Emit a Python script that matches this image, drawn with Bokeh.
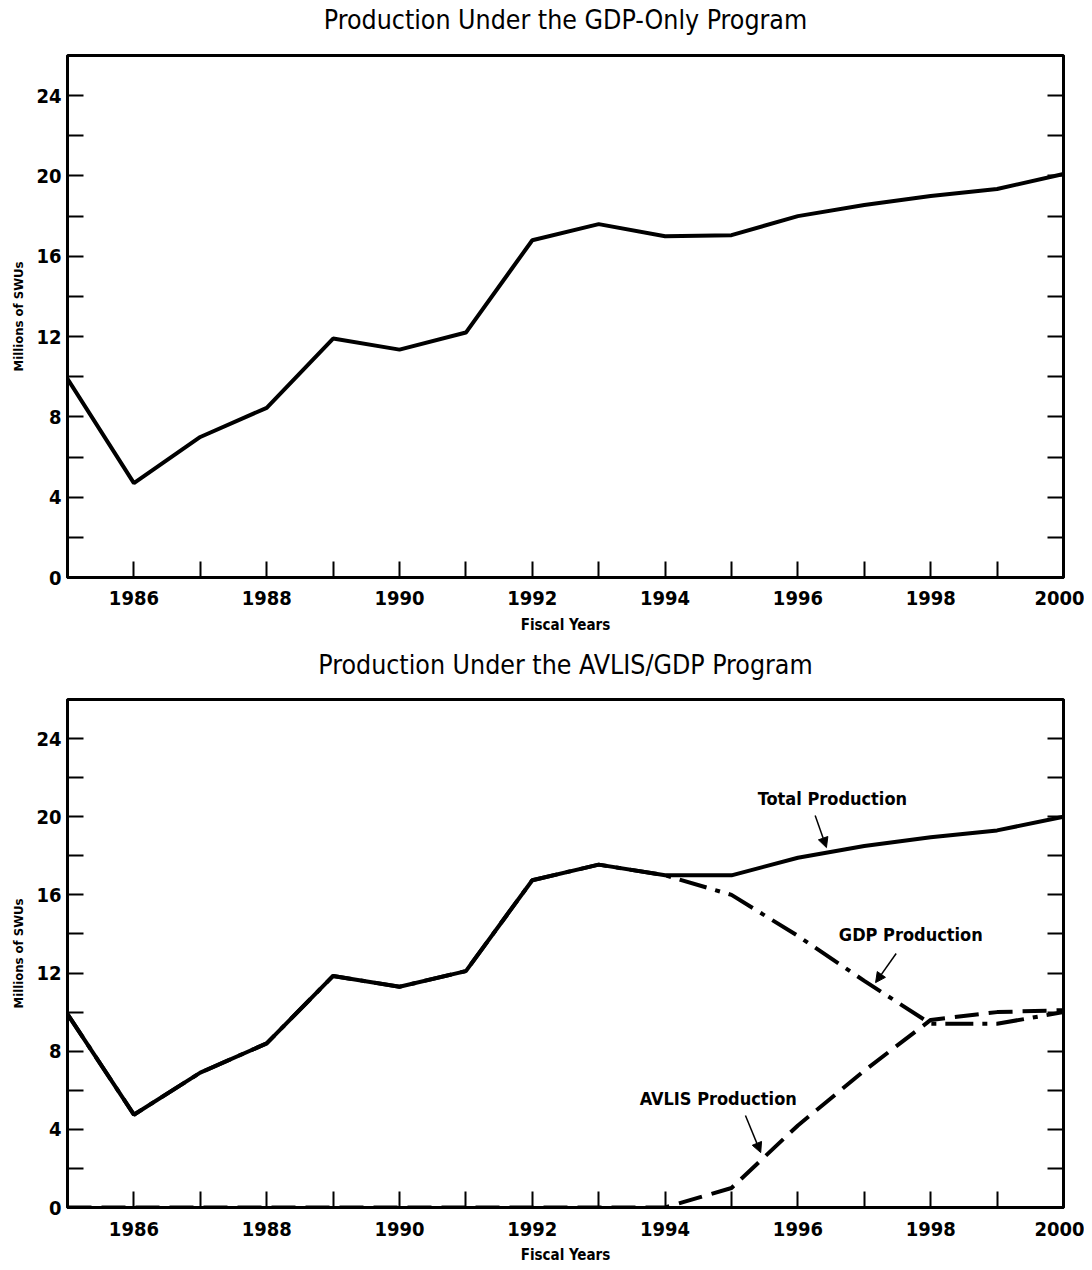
from bokeh.plotting import figure
from bokeh.models import Range1d, FixedTicker, LinearAxis, Label, Arrow, NormalHead, CustomJSTickFormatter
from bokeh.layouts import column
from bokeh.embed import file_html
from bokeh.resources import INLINE

FONT = "'DejaVu Sans Condensed', 'Roboto', sans-serif"

years = [1985, 1986, 1987, 1988, 1989, 1990, 1991, 1992, 1993, 1994, 1995, 1996, 1997, 1998, 1999, 2000]
gdp_only = [9.9, 4.7, 7.0, 8.45, 11.9, 11.35, 12.2, 16.8, 17.6, 17.0, 17.05, 18.0, 18.55, 19.0, 19.35, 20.1]
total_prod = [9.9, 4.75, 6.9, 8.4, 11.85, 11.3, 12.1, 16.75, 17.55, 17.0, 17.0, 17.9, 18.5, 18.95, 19.3, 20.0]
gdp_prod = [9.9, 4.75, 6.9, 8.4, 11.85, 11.3, 12.1, 16.75, 17.55, 17.0, 16.0, 13.9, 11.6, 9.4, 9.4, 10.0]
avlis_prod = [0.0, 0.0, 0.0, 0.0, 0.0, 0.0, 0.0, 0.0, 0.0, 0.0, 1.0, 4.2, 7.0, 9.6, 10.0, 10.1]

x_major = [1986, 1988, 1990, 1992, 1994, 1996, 1998, 2000]
x_minor = [1987, 1989, 1991, 1993, 1995, 1997, 1999]
y_major = [0, 4, 8, 12, 16, 20, 24]
y_minor = [2, 6, 10, 14, 18, 22]

titles = ["Production Under the GDP-Only Program", "Production Under the AVLIS/GDP Program"]

# annotation texts (data coordinates)
ann_text = ["Total Production", "GDP Production", "AVLIS Production"]
ann_x = [1996.52, 1997.70, 1994.80]
ann_y = [20.93, 13.97, 5.58]
arr_x0 = [1996.26, 1997.48, 1995.21]
arr_y0 = [20.06, 13.0, 4.71]
arr_x1 = [1996.43, 1997.17, 1995.44]
arr_y1 = [18.42, 11.51, 2.81]


def make_fig(title, frame_h, top, bottom, lab_standoff, axlab_standoff, title_standoff):
    p = figure(width=1084, height=top + frame_h + bottom,
               x_range=Range1d(1985, 2000), y_range=Range1d(0, 26),
               output_backend="svg", toolbar_location=None,
               min_border_left=67, min_border_right=21,
               min_border_top=top, min_border_bottom=bottom,
               x_axis_label="Fiscal Years", y_axis_label="Millions of SWUs")
    p.grid.visible = False
    p.outline_line_color = "black"
    p.outline_line_width = 3
    p.outline_line_alpha = 1
    p.xaxis.ticker = FixedTicker(ticks=x_major, minor_ticks=x_minor)
    p.yaxis.ticker = FixedTicker(ticks=y_major, minor_ticks=y_minor)
    for ax in p.xaxis + p.yaxis:
        ax.axis_line_width = 3
        ax.axis_line_color = "black"
        ax.major_tick_in = 16
        ax.major_tick_out = 0
        ax.minor_tick_in = 16
        ax.minor_tick_out = 0
        ax.major_tick_line_width = 2
        ax.minor_tick_line_width = 2
        ax.major_tick_line_color = "black"
        ax.minor_tick_line_color = "black"
        ax.major_label_text_font = FONT
        ax.major_label_text_font_style = "bold"
        ax.major_label_text_font_size = "20px"
        ax.major_label_text_color = "black"
        ax.axis_label_text_font = FONT
        ax.axis_label_text_font_style = "bold"
        ax.axis_label_text_color = "black"
    p.xaxis.major_label_standoff = lab_standoff
    p.yaxis.major_label_standoff = 6
    p.xaxis.axis_label_text_font_size = "15px"
    p.yaxis.axis_label_text_font_size = "13px"
    p.xaxis.axis_label_standoff = axlab_standoff
    p.yaxis.axis_label_standoff = 7
    r = LinearAxis(ticker=FixedTicker(ticks=y_major + y_minor),
                   formatter=CustomJSTickFormatter(code="return ''"))
    r.axis_line_width = 3
    r.major_tick_in = 16
    r.major_tick_out = 0
    r.major_tick_line_width = 2
    r.major_label_standoff = 0
    p.add_layout(r, "right")
    t = LinearAxis(ticker=FixedTicker(ticks=[]), axis_label=title)
    t.axis_line_color = None
    t.major_tick_line_color = None
    t.minor_tick_line_color = None
    t.axis_label_text_font = FONT
    t.axis_label_text_font_size = "26.5px"
    t.axis_label_text_font_style = "normal"
    t.axis_label_text_color = "black"
    t.axis_label_standoff = title_standoff
    p.add_layout(t, "above")
    return p


p1 = make_fig(titles[0], 522, 55, 60, 13, 8, 21)
p1.line(years, gdp_only, line_color="black", line_width=4)

p2 = make_fig(titles[1], 508, 62, 60, 14, 7, 20)
p2.line(years, total_prod, line_color="black", line_width=4)
p2.line(years, gdp_prod, line_color="black", line_width=4, line_dash="28 9 5 9")
p2.line(years, avlis_prod, line_color="black", line_width=4, line_dash="24 10")

for i in range(3):
    p2.add_layout(Label(x=ann_x[i], y=ann_y[i], text=ann_text[i],
                        text_align="center", text_baseline="middle",
                        text_font=FONT, text_font_style="bold",
                        text_font_size="18px", text_color="black"))
    p2.add_layout(Arrow(end=NormalHead(size=10, fill_color="black", line_color="black"),
                        x_start=arr_x0[i], y_start=arr_y0[i],
                        x_end=arr_x1[i], y_end=arr_y1[i],
                        line_width=1.5, line_color="black"))

layout = column(p1, p2)
open("out.html", "w").write(file_html(layout, INLINE))
